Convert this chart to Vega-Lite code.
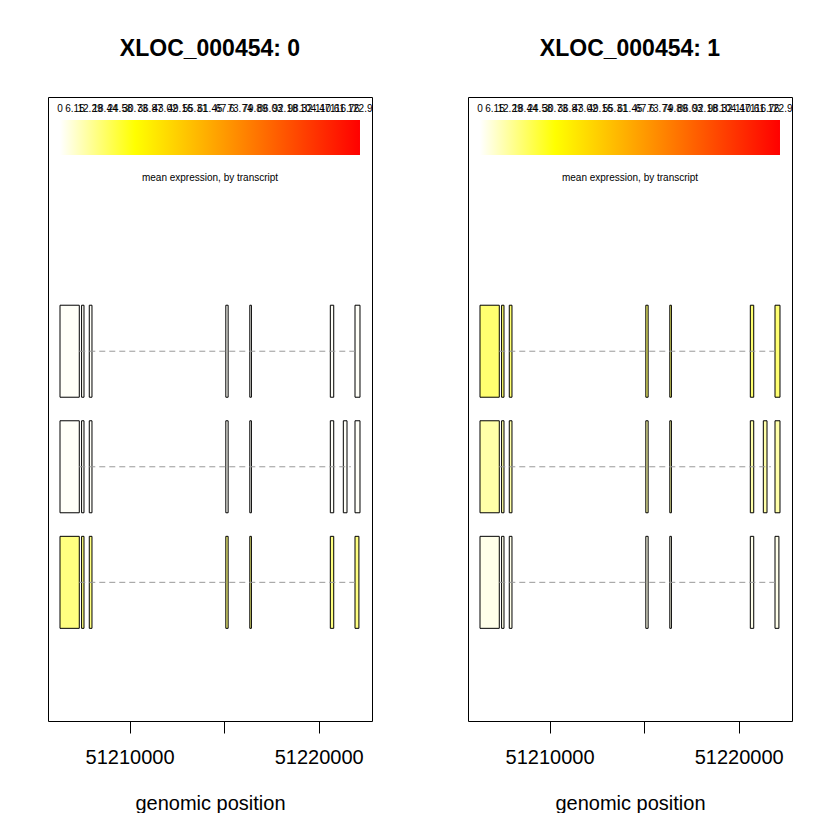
{
  "$schema": "https://vega.github.io/schema/vega-lite/v6.json",
  "padding": {"left": 47, "top": 38, "right": 0, "bottom": 0},
  "bounds": "flush",
  "background": "white",
  "data": {"values": [
    {"kind":"exon","panel":0,"tx":3,"start":51206323,"end":51207343,"expr":0.8},
    {"kind":"exon","panel":0,"tx":3,"start":51207464,"end":51207591,"expr":0.8},
    {"kind":"exon","panel":0,"tx":3,"start":51207871,"end":51208014,"expr":0.8},
    {"kind":"exon","panel":0,"tx":3,"start":51215092,"end":51215214,"expr":0.8},
    {"kind":"exon","panel":0,"tx":3,"start":51216360,"end":51216445,"expr":0.8},
    {"kind":"exon","panel":0,"tx":3,"start":51220618,"end":51220798,"expr":0.8},
    {"kind":"exon","panel":0,"tx":3,"start":51221923,"end":51222187,"expr":0.8},
    {"kind":"exon","panel":0,"tx":2,"start":51206323,"end":51207343,"expr":0.8},
    {"kind":"exon","panel":0,"tx":2,"start":51207464,"end":51207591,"expr":0.8},
    {"kind":"exon","panel":0,"tx":2,"start":51207871,"end":51208014,"expr":0.8},
    {"kind":"exon","panel":0,"tx":2,"start":51215092,"end":51215214,"expr":0.8},
    {"kind":"exon","panel":0,"tx":2,"start":51216360,"end":51216445,"expr":0.8},
    {"kind":"exon","panel":0,"tx":2,"start":51220618,"end":51220798,"expr":0.8},
    {"kind":"exon","panel":0,"tx":2,"start":51221305,"end":51221500,"expr":0.8},
    {"kind":"exon","panel":0,"tx":2,"start":51221923,"end":51222187,"expr":0.8},
    {"kind":"exon","panel":0,"tx":1,"start":51206323,"end":51207343,"expr":15.3},
    {"kind":"exon","panel":0,"tx":1,"start":51207464,"end":51207591,"expr":15.3},
    {"kind":"exon","panel":0,"tx":1,"start":51207871,"end":51208014,"expr":15.3},
    {"kind":"exon","panel":0,"tx":1,"start":51215092,"end":51215214,"expr":15.3},
    {"kind":"exon","panel":0,"tx":1,"start":51216360,"end":51216445,"expr":15.3},
    {"kind":"exon","panel":0,"tx":1,"start":51220618,"end":51220798,"expr":15.3},
    {"kind":"exon","panel":0,"tx":1,"start":51221923,"end":51222130,"expr":15.3},
    {"kind":"exon","panel":1,"tx":3,"start":51206323,"end":51207343,"expr":17.2},
    {"kind":"exon","panel":1,"tx":3,"start":51207464,"end":51207591,"expr":17.2},
    {"kind":"exon","panel":1,"tx":3,"start":51207871,"end":51208014,"expr":17.2},
    {"kind":"exon","panel":1,"tx":3,"start":51215092,"end":51215214,"expr":17.2},
    {"kind":"exon","panel":1,"tx":3,"start":51216360,"end":51216445,"expr":17.2},
    {"kind":"exon","panel":1,"tx":3,"start":51220618,"end":51220798,"expr":17.2},
    {"kind":"exon","panel":1,"tx":3,"start":51221923,"end":51222187,"expr":17.2},
    {"kind":"exon","panel":1,"tx":2,"start":51206323,"end":51207343,"expr":10.5},
    {"kind":"exon","panel":1,"tx":2,"start":51207464,"end":51207591,"expr":10.5},
    {"kind":"exon","panel":1,"tx":2,"start":51207871,"end":51208014,"expr":10.5},
    {"kind":"exon","panel":1,"tx":2,"start":51215092,"end":51215214,"expr":10.5},
    {"kind":"exon","panel":1,"tx":2,"start":51216360,"end":51216445,"expr":10.5},
    {"kind":"exon","panel":1,"tx":2,"start":51220618,"end":51220798,"expr":10.5},
    {"kind":"exon","panel":1,"tx":2,"start":51221305,"end":51221500,"expr":10.5},
    {"kind":"exon","panel":1,"tx":2,"start":51221923,"end":51222187,"expr":10.5},
    {"kind":"exon","panel":1,"tx":1,"start":51206323,"end":51207343,"expr":2.5},
    {"kind":"exon","panel":1,"tx":1,"start":51207464,"end":51207591,"expr":2.5},
    {"kind":"exon","panel":1,"tx":1,"start":51207871,"end":51208014,"expr":2.5},
    {"kind":"exon","panel":1,"tx":1,"start":51215092,"end":51215214,"expr":2.5},
    {"kind":"exon","panel":1,"tx":1,"start":51216360,"end":51216445,"expr":2.5},
    {"kind":"exon","panel":1,"tx":1,"start":51220618,"end":51220798,"expr":2.5},
    {"kind":"exon","panel":1,"tx":1,"start":51221923,"end":51222130,"expr":2.5},
    {"kind":"intron","panel":0,"tx":3,"start":51207343,"end":51221923},
    {"kind":"intron","panel":0,"tx":2,"start":51207343,"end":51221700},
    {"kind":"intron","panel":0,"tx":1,"start":51207343,"end":51221923},
    {"kind":"intron","panel":1,"tx":3,"start":51207343,"end":51221923},
    {"kind":"intron","panel":1,"tx":2,"start":51207343,"end":51221700},
    {"kind":"intron","panel":1,"tx":1,"start":51207343,"end":51221923},
    {"kind":"bar","panel":0,"tx":4.85,"start":51206323,"end":51222187},
    {"kind":"bar","panel":1,"tx":4.85,"start":51206323,"end":51222187},
    {"kind":"caption","panel":0,"tx":4.5,"start":51214255,"label":"mean expression, by transcript"},
    {"kind":"caption","panel":1,"tx":4.5,"start":51214255,"label":"mean expression, by transcript"},
    {"kind":"tick","panel":0,"tx":5.1,"start":51206323,"label":"0"},
    {"kind":"tick","panel":0,"tx":5.1,"start":51207116,"label":"6.15"},
    {"kind":"tick","panel":0,"tx":5.1,"start":51207909,"label":"12.29"},
    {"kind":"tick","panel":0,"tx":5.1,"start":51208703,"label":"18.44"},
    {"kind":"tick","panel":0,"tx":5.1,"start":51209496,"label":"24.58"},
    {"kind":"tick","panel":0,"tx":5.1,"start":51210289,"label":"30.73"},
    {"kind":"tick","panel":0,"tx":5.1,"start":51211082,"label":"36.87"},
    {"kind":"tick","panel":0,"tx":5.1,"start":51211875,"label":"43.02"},
    {"kind":"tick","panel":0,"tx":5.1,"start":51212669,"label":"49.16"},
    {"kind":"tick","panel":0,"tx":5.1,"start":51213462,"label":"55.31"},
    {"kind":"tick","panel":0,"tx":5.1,"start":51214255,"label":"61.45"},
    {"kind":"tick","panel":0,"tx":5.1,"start":51215048,"label":"67.6"},
    {"kind":"tick","panel":0,"tx":5.1,"start":51215841,"label":"73.74"},
    {"kind":"tick","panel":0,"tx":5.1,"start":51216634,"label":"79.89"},
    {"kind":"tick","panel":0,"tx":5.1,"start":51217428,"label":"86.03"},
    {"kind":"tick","panel":0,"tx":5.1,"start":51218221,"label":"92.18"},
    {"kind":"tick","panel":0,"tx":5.1,"start":51219014,"label":"98.32"},
    {"kind":"tick","panel":0,"tx":5.1,"start":51219807,"label":"104.47"},
    {"kind":"tick","panel":0,"tx":5.1,"start":51220601,"label":"110.61"},
    {"kind":"tick","panel":0,"tx":5.1,"start":51221394,"label":"116.76"},
    {"kind":"tick","panel":0,"tx":5.1,"start":51222187,"label":"122.9"},
    {"kind":"tick","panel":1,"tx":5.1,"start":51206323,"label":"0"},
    {"kind":"tick","panel":1,"tx":5.1,"start":51207116,"label":"6.15"},
    {"kind":"tick","panel":1,"tx":5.1,"start":51207909,"label":"12.29"},
    {"kind":"tick","panel":1,"tx":5.1,"start":51208703,"label":"18.44"},
    {"kind":"tick","panel":1,"tx":5.1,"start":51209496,"label":"24.58"},
    {"kind":"tick","panel":1,"tx":5.1,"start":51210289,"label":"30.73"},
    {"kind":"tick","panel":1,"tx":5.1,"start":51211082,"label":"36.87"},
    {"kind":"tick","panel":1,"tx":5.1,"start":51211875,"label":"43.02"},
    {"kind":"tick","panel":1,"tx":5.1,"start":51212669,"label":"49.16"},
    {"kind":"tick","panel":1,"tx":5.1,"start":51213462,"label":"55.31"},
    {"kind":"tick","panel":1,"tx":5.1,"start":51214255,"label":"61.45"},
    {"kind":"tick","panel":1,"tx":5.1,"start":51215048,"label":"67.6"},
    {"kind":"tick","panel":1,"tx":5.1,"start":51215841,"label":"73.74"},
    {"kind":"tick","panel":1,"tx":5.1,"start":51216634,"label":"79.89"},
    {"kind":"tick","panel":1,"tx":5.1,"start":51217428,"label":"86.03"},
    {"kind":"tick","panel":1,"tx":5.1,"start":51218221,"label":"92.18"},
    {"kind":"tick","panel":1,"tx":5.1,"start":51219014,"label":"98.32"},
    {"kind":"tick","panel":1,"tx":5.1,"start":51219807,"label":"104.47"},
    {"kind":"tick","panel":1,"tx":5.1,"start":51220601,"label":"110.61"},
    {"kind":"tick","panel":1,"tx":5.1,"start":51221394,"label":"116.76"},
    {"kind":"tick","panel":1,"tx":5.1,"start":51222187,"label":"122.9"}
  ]},
  "facet": {"column": {"field": "panel", "type": "nominal", "header": {
    "title": null, "labelFontSize": 23, "labelFontWeight": "bold", "labelFont": "Liberation Sans",
    "labelColor": "black", "labelPadding": 36, "labelExpr": "'XLOC_000454: ' + datum.value"}}},
  "spacing": 96,
  "spec": {
    "width": 324, "height": 624,
    "layer": [
      {
        "transform": [{"filter": "datum.kind == 'bar'"}],
        "mark": {"type": "rect", "height": 35, "fill": {"gradient": "linear", "x1": 0, "y1": 0, "x2": 1, "y2": 0,
          "stops": [{"offset": 0, "color": "#ffffff"}, {"offset": 0.25, "color": "#ffff00"}, {"offset": 1, "color": "#ff0000"}]}},
        "encoding": {
          "x": {"field": "start", "type": "quantitative", "scale": {"domain": [51205688, 51222822], "nice": false, "zero": false},
            "axis": {"values": [51210000, 51215000, 51220000], "format": "d", "labelExpr": "datum.value == 51215000 ? '' : datum.label", "title": "genomic position"}},
          "x2": {"field": "end"},
          "y": {"field": "tx", "type": "quantitative", "scale": {"domain": [-0.2, 5.2], "nice": false, "zero": false}, "axis": null}
        }
      },
      {
        "transform": [{"filter": "datum.kind == 'exon'"}],
        "mark": {"type": "rect", "height": 92, "stroke": "black", "strokeWidth": 1},
        "encoding": {
          "x": {"field": "start", "type": "quantitative", "scale": {"domain": [51205688, 51222822], "nice": false, "zero": false},
            "axis": {"values": [51210000, 51215000, 51220000], "format": "d", "labelExpr": "datum.value == 51215000 ? '' : datum.label", "title": "genomic position"}},
          "x2": {"field": "end"},
          "y": {"field": "tx", "type": "quantitative", "scale": {"domain": [-0.2, 5.2], "nice": false, "zero": false}, "axis": null},
          "fill": {"field": "expr", "type": "quantitative", "scale": {"type": "linear", "domain": [0, 122.9], "range": ["#ffffff", "#ffff00", "#ffaa00", "#ff5500", "#ff0000"], "interpolate": "rgb", "zero": false, "nice": false}, "legend": null}
        }
      },
      {
        "transform": [{"filter": "datum.kind == 'intron'"}],
        "mark": {"type": "rule", "color": "#999999", "strokeWidth": 1, "strokeDash": [6, 4]},
        "encoding": {
          "x": {"field": "start", "type": "quantitative", "scale": {"domain": [51205688, 51222822], "nice": false, "zero": false},
            "axis": {"values": [51210000, 51215000, 51220000], "format": "d", "labelExpr": "datum.value == 51215000 ? '' : datum.label", "title": "genomic position"}},
          "x2": {"field": "end"},
          "y": {"field": "tx", "type": "quantitative", "scale": {"domain": [-0.2, 5.2], "nice": false, "zero": false}, "axis": null}
        }
      },
      {
        "transform": [{"filter": "datum.kind == 'tick' || datum.kind == 'caption'"}],
        "mark": {"type": "text", "font": "Liberation Sans", "fontSize": 10, "color": "black", "align": "center", "baseline": "middle"},
        "encoding": {
          "x": {"field": "start", "type": "quantitative", "scale": {"domain": [51205688, 51222822], "nice": false, "zero": false},
            "axis": {"values": [51210000, 51215000, 51220000], "format": "d", "labelExpr": "datum.value == 51215000 ? '' : datum.label", "title": "genomic position"}},
          "y": {"field": "tx", "type": "quantitative", "scale": {"domain": [-0.2, 5.2], "nice": false, "zero": false}, "axis": null},
          "text": {"field": "label"}
        }
      }
    ]
  },
  "config": {
    "view": {"stroke": "black", "strokeWidth": 1},
    "axisX": {"grid": false, "domain": false, "tickSize": 12, "tickColor": "black", "tickWidth": 1,
      "labelFont": "Liberation Sans", "labelFontSize": 20, "labelColor": "black", "labelPadding": 14, "labelFlush": false, "labelOverlap": false,
      "titleFont": "Liberation Sans", "titleFontSize": 20, "titleFontWeight": "normal", "titleColor": "black", "titlePadding": 26}
  }
}
